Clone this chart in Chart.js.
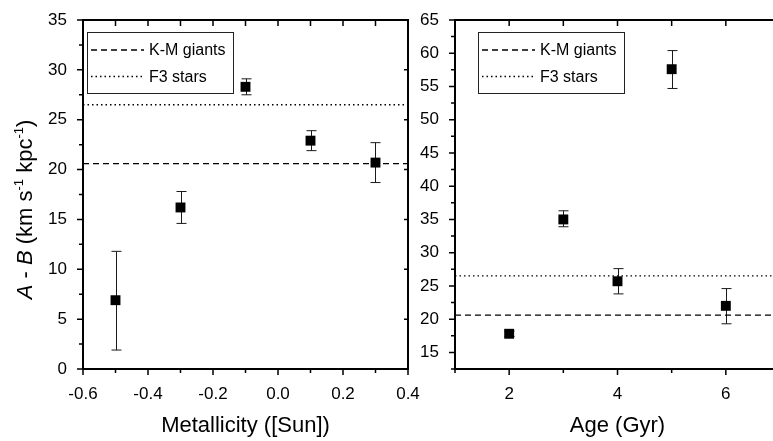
<!DOCTYPE html>
<html>
<head>
<meta charset="utf-8">
<script src="https://cdn.jsdelivr.net/npm/chart.js@4.4.0/dist/chart.umd.min.js"></script>
<style>
  html, body { margin: 0; padding: 0; background: #fff; overflow: hidden; width: 773px; height: 441px; }
  #metChart { position: absolute; left: 0; top: 0; }
  #ageChart { position: absolute; left: 415px; top: 0; }
</style>
</head>
<body>
<canvas id="metChart" width="430" height="441"></canvas>
<canvas id="ageChart" width="380" height="441"></canvas>
<script>
// Left panel: A - B against metallicity
const metX  = [-0.5, -0.3, -0.1, 0.1, 0.3];
const metY  = [6.9, 16.2, 28.3, 22.9, 20.7];
const metLo = [1.9, 14.6, 27.5, 21.9, 18.7];
const metHi = [11.8, 17.8, 29.1, 23.9, 22.7];

// Right panel: A - B against age
const ageX  = [2, 3, 4, 5, 6];
const ageY  = [17.8, 35.0, 25.7, 57.6, 22.0];
const ageLo = [17.4, 33.9, 23.8, 54.7, 19.3];
const ageHi = [18.2, 36.3, 27.6, 60.4, 24.6];

// reference values (horizontal lines)
const refNames  = ['K-M giants', 'F3 stars'];
const refValues = [20.6, 26.5];

Chart.defaults.font.family = '"Liberation Sans", Arial, Helvetica, sans-serif';
Chart.defaults.color = '#000';

// frame + tick marks (outward on bottom/left, inward on top/right)
const axisFramePlugin = {
    id: 'axisFrame',
    afterDraw(chart, args, opts) {
        const ctx = chart.ctx;
        const a = chart.chartArea;
        const xs = chart.scales.x, ys = chart.scales.y;
        ctx.save();
        ctx.setLineDash([]);
        ctx.globalAlpha = 1;
        ctx.strokeStyle = opts.color || '#000';
        ctx.lineWidth = 2;
        ctx.strokeRect(a.left, a.top, a.right - a.left, a.bottom - a.top);
        ctx.lineWidth = 1.5;
        ctx.beginPath();
        xs.ticks.forEach(t => {
            const px = xs.getPixelForValue(t.value);
            const major = t.label !== '';
            ctx.moveTo(px, a.bottom); ctx.lineTo(px, a.bottom + (major ? 6 : 4));
            ctx.moveTo(px, a.top); ctx.lineTo(px, a.top + 6);
        });
        ys.ticks.forEach(t => {
            const py = ys.getPixelForValue(t.value);
            const major = t.label !== '';
            ctx.moveTo(a.left - (major ? 6 : 4), py); ctx.lineTo(a.left, py);
            if (major) { ctx.moveTo(a.right - 4, py); ctx.lineTo(a.right, py); }
        });
        ctx.stroke();
        ctx.restore();
    }
};

// vertical error bars with caps, drawn under the markers
const errorBarPlugin = {
    id: 'errorBars',
    beforeDatasetsDraw(chart, args, opts) {
        const { ctx } = chart;
        const xs = chart.scales.x, ys = chart.scales.y;
        ctx.save();
        ctx.strokeStyle = '#1a1a1a';
        ctx.lineWidth = 1;
        opts.x.forEach((xv, i) => {
            const px = Math.round(xs.getPixelForValue(xv)) + 0.5;
            const lo = ys.getPixelForValue(opts.lo[i]);
            const hi = ys.getPixelForValue(opts.hi[i]);
            ctx.beginPath();
            ctx.moveTo(px, lo); ctx.lineTo(px, hi);
            ctx.moveTo(px - 5, lo); ctx.lineTo(px + 5, lo);
            ctx.moveTo(px - 5, hi); ctx.lineTo(px + 5, hi);
            ctx.stroke();
        });
        ctx.restore();
    }
};

// boxed legend inside the plot for the two reference lines
const boxLegendPlugin = {
    id: 'boxLegend',
    afterDraw(chart, args, opts) {
        const { ctx, chartArea: a } = chart;
        const bx = a.left + opts.offsetX, by = a.top + opts.offsetY;
        ctx.save();
        ctx.fillStyle = '#fff';
        ctx.fillRect(bx, by, 146, 61);
        ctx.strokeStyle = '#222';
        ctx.lineWidth = 1;
        ctx.strokeRect(bx + 0.5, by + 0.5, 146, 61);
        const items = chart.data.datasets.filter(d => d.inLegend);
        ctx.font = '16px "Liberation Sans", Arial, sans-serif';
        ctx.fillStyle = '#000';
        ctx.textBaseline = 'middle';
        items.forEach((d, i) => {
            const yy = by + 18 + i * 26.5;
            ctx.strokeStyle = d.borderColor;
            ctx.lineWidth = d.borderWidth;
            ctx.setLineDash(d.borderDash);
            ctx.beginPath();
            ctx.moveTo(bx + 4, yy); ctx.lineTo(bx + 57, yy);
            ctx.stroke();
            ctx.setLineDash([]);
            ctx.fillText(d.label, bx + 62, yy + 1);
        });
        ctx.restore();
    }
};

// rotated y title with italic A, B and superscripts
const yTitlePlugin = {
    id: 'yTitle',
    afterDraw(chart, args, opts) {
        if (!opts.show) return;
        const { ctx, chartArea: a } = chart;
        const fam = '"Liberation Sans", Arial, sans-serif';
        const parts = [
            { t: 'A', it: true }, { t: ' - ' }, { t: 'B', it: true }, { t: ' (km s' },
            { t: '-1', sup: true }, { t: ' kpc' }, { t: '-1', sup: true }, { t: ')' }
        ];
        const fontOf = p => (p.it ? 'italic ' : '') + (p.sup ? '13px ' : '22px ') + fam;
        ctx.save();
        let total = 0;
        parts.forEach(p => { ctx.font = fontOf(p); p.w = ctx.measureText(p.t).width; total += p.w; });
        ctx.translate(32, (a.top + a.bottom) / 2 + 15);
        ctx.rotate(-Math.PI / 2);
        ctx.fillStyle = '#000';
        ctx.textBaseline = 'alphabetic';
        let cx = -total / 2;
        parts.forEach(p => {
            ctx.font = fontOf(p);
            ctx.fillText(p.t, cx, p.sup ? -9 : 0);
            cx += p.w;
        });
        ctx.restore();
    }
};

function refDatasets(xmin, xmax) {
    const styles = [[6, 4], [1.5, 3]];
    return refNames.map((name, i) => ({
        type: 'line',
        label: name,
        inLegend: true,
        data: [{ x: xmin, y: refValues[i] }, { x: xmax, y: refValues[i] }],
        borderColor: '#000',
        borderWidth: 1.3,
        borderDash: styles[i],
        pointRadius: 0,
        fill: false
    }));
}

function makePanel(id, p) {
    const points = p.xs.map((x, i) => ({ x: x, y: p.ys[i] }));
    return new Chart(document.getElementById(id), {
        type: 'scatter',
        data: {
            datasets: [
                {
                    label: 'A - B',
                    data: points,
                    pointStyle: 'rect',
                    pointRadius: 7,
                    backgroundColor: '#000',
                    borderColor: '#000',
                    borderWidth: 0
                },
                ...refDatasets(p.xmin, p.xmax)
            ]
        },
        options: {
            responsive: false,
            animation: false,
            events: [],
            layout: { padding: { top: 20, right: p.padRight, left: 0, bottom: 0 } },
            scales: {
                x: {
                    type: 'linear',
                    min: p.xmin,
                    max: p.xmax,
                    // fixed axis height, no extra room for overflowing labels
                    afterFit: s => { s.height = 72; s.paddingLeft = 0; s.paddingRight = 0; },
                    grid: { display: false, drawTicks: false },
                    border: { display: false },
                    ticks: {
                        stepSize: p.xstep,
                        maxTicksLimit: 100,
                        autoSkip: false,
                        maxRotation: 0,
                        padding: 15,
                        font: { size: 17 },
                        callback: p.xlabel
                    },
                    title: {
                        display: true,
                        text: p.xtitle,
                        font: { size: 22 },
                        padding: { top: 0, bottom: 2 }
                    }
                },
                y: {
                    type: 'linear',
                    min: p.ymin,
                    max: p.ymax,
                    afterFit: s => { s.width = p.yWidth; s.paddingTop = 0; s.paddingBottom = 0; },
                    grid: { display: false, drawTicks: false },
                    border: { display: false },
                    ticks: {
                        stepSize: 2.5,
                        maxTicksLimit: 100,
                        autoSkip: false,
                        padding: 16,
                        font: { size: 17 },
                        callback: v => (v % 5 === 0 ? String(v) : '')
                    }
                }
            },
            plugins: {
                legend: { display: false },
                tooltip: { enabled: false },
                axisFrame: { color: '#000' },
                errorBars: { x: p.xs, lo: p.lo, hi: p.hi },
                boxLegend: { offsetX: p.legX, offsetY: 12 },
                yTitle: { show: p.yTitle }
            }
        },
        plugins: [errorBarPlugin, axisFramePlugin, boxLegendPlugin, yTitlePlugin]
    });
}

makePanel('metChart', {
    xs: metX, ys: metY, lo: metLo, hi: metHi,
    xmin: -0.6, xmax: 0.4, xstep: 0.1,
    xlabel: v => {
        const k = Math.round(v * 10);
        return k % 2 === 0 ? (k === 0 ? '0.0' : (k / 10).toFixed(1)) : '';
    },
    xtitle: 'Metallicity ([Sun])',
    ymin: 0, ymax: 35,
    yWidth: 83, padRight: 22, legX: 4, yTitle: true
});

makePanel('ageChart', {
    xs: ageX, ys: ageY, lo: ageLo, hi: ageHi,
    xmin: 1, xmax: 7, xstep: 1,
    xlabel: v => (v % 2 === 0 ? String(v) : ''),
    xtitle: 'Age (Gyr)',
    ymin: 12.5, ymax: 65,
    yWidth: 40, padRight: 15, legX: 23, yTitle: false
});
</script>
</body>
</html>
